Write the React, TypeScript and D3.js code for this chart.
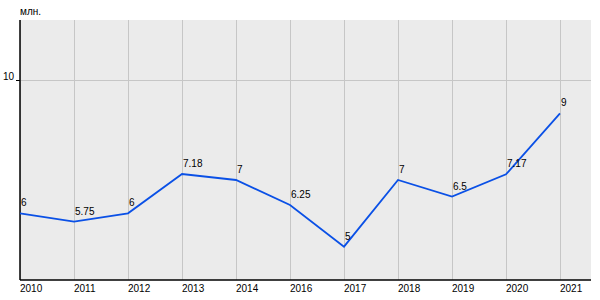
import React from "react";
import * as d3 from "d3";

const categories = ["2010", "2011", "2012", "2013", "2014", "2016", "2017", "2018", "2019", "2020", "2021"];
const values = [6, 5.75, 6, 7.18, 7, 6.25, 5, 7, 6.5, 7.17, 9];
const yTicks = [10];
const unitLabel = "млн.";

export default function App() {
  const W = 600, H = 300;
  const left = 20, right = 591, top = 20, bottom = 280;
  const x = d3.scalePoint<string>().domain(categories).range([left, 560]);
  const y = d3.scaleLinear().domain([4, 11.8]).range([bottom, top]);
  const line = d3.line<number>().x((_, i) => x(categories[i])!).y((d) => y(d));
  const font = "'Liberation Sans', Arial, sans-serif";
  return (
    <svg width={W} height={H} style={{ position: "absolute", left: 0, top: 0 }} fontFamily={font}>
      <rect x={0} y={0} width={W} height={H} fill="#fff" />
      <rect x={left} y={top} width={right - left} height={bottom - top} fill="#ebebeb" />
      {categories.map((c) => (
        <line key={c} x1={x(c)} x2={x(c)} y1={top} y2={bottom} stroke="#c6c6c6" strokeWidth={1} shapeRendering="crispEdges" />
      ))}
      {yTicks.map((t) => (
        <g key={t}>
          <line x1={left} x2={right} y1={y(t)} y2={y(t)} stroke="#c6c6c6" strokeWidth={1} shapeRendering="crispEdges" />
          <line x1={left - 4} x2={left} y1={y(t)} y2={y(t)} stroke="#000" strokeWidth={1} shapeRendering="crispEdges" />
          <text x={left - 6} y={y(t)} textAnchor="end" fontSize={10} fill="#000">{t}</text>
        </g>
      ))}
      <line x1={left} x2={left} y1={top} y2={bottom} stroke="#000" strokeWidth={1.5} />
      <line x1={left} x2={right} y1={bottom} y2={bottom} stroke="#000" strokeWidth={1.5} />
      {categories.map((c) => (
        <text key={c} x={x(c)} y={292} fontSize={10} fill="#000">{c}</text>
      ))}
      <text x={20} y={15} fontSize={10} fill="#000">{unitLabel}</text>
      <path d={line(values) || ""} fill="none" stroke="#0a50e6" strokeWidth={1.8} />
      {values.map((v, i) => (
        <text key={i} x={x(categories[i])! + 1} y={y(v) - 7} fontSize={10} fill="#000">{v}</text>
      ))}
    </svg>
  );
}
